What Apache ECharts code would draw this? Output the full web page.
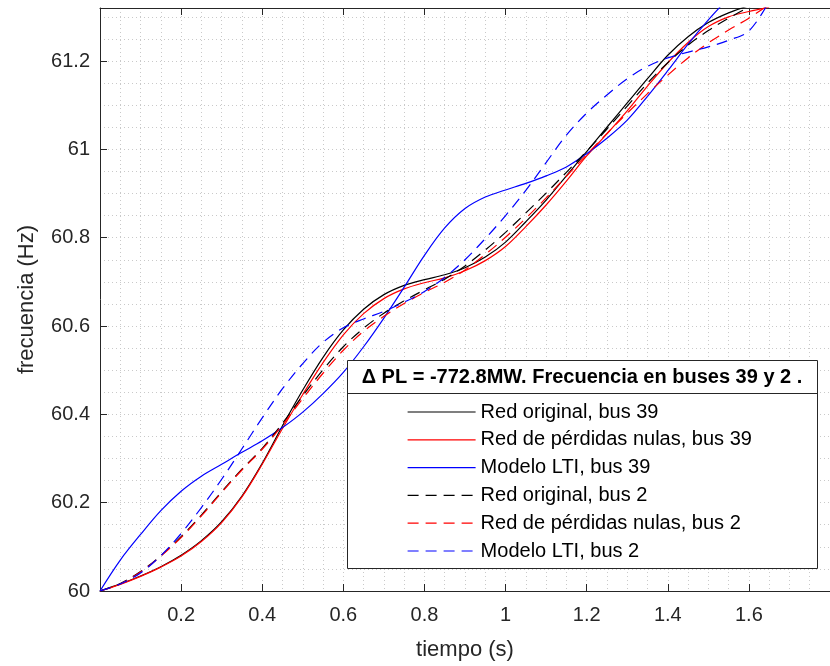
<!DOCTYPE html>
<html>
<head>
<meta charset="utf-8">
<script src="https://cdn.jsdelivr.net/npm/echarts@6/dist/echarts.min.js"></script>
<style>
  html, body {margin: 0; padding: 0; background: #fff;}
  #chart {width: 830px; height: 666px;}
</style>
</head>
<body>
<div id="chart"></div>
<script>
// tiempo (s)
const tiempo = [0, 0.05, 0.1, 0.15, 0.2, 0.25, 0.3, 0.35, 0.4, 0.45, 0.5, 0.55, 0.6, 0.65, 0.7, 0.75, 0.8,
  0.85, 0.9, 0.95, 1, 1.05, 1.1, 1.15, 1.2, 1.25, 1.3, 1.35, 1.4, 1.45, 1.5, 1.55, 1.6, 1.65];

// frecuencia (Hz), bus 39
const redOriginal39 = [60.000, 60.016, 60.034, 60.055, 60.081, 60.114, 60.157, 60.215, 60.289, 60.374, 60.455, 60.529,
  60.591, 60.638, 60.671, 60.692, 60.705, 60.716, 60.732, 60.756, 60.790, 60.836, 60.885, 60.940, 60.995, 61.050,
  61.105, 61.160, 61.213, 61.255, 61.287, 61.309, 61.325, 61.337];
const redNulas39 = [60.000, 60.015, 60.033, 60.054, 60.079, 60.112, 60.155, 60.213, 60.287, 60.368, 60.445, 60.517,
  60.580, 60.628, 60.662, 60.684, 60.698, 60.709, 60.725, 60.748, 60.780, 60.825, 60.874, 60.928, 60.985, 61.035,
  61.087, 61.143, 61.196, 61.242, 61.278, 61.300, 61.312, 61.322];
const lti39 = [60.000, 60.070, 60.128, 60.182, 60.226, 60.260, 60.287, 60.314, 60.340, 60.370, 60.405, 60.447,
  60.495, 60.553, 60.618, 60.688, 60.760, 60.822, 60.866, 60.892, 60.908, 60.923, 60.940, 60.960, 60.990, 61.025,
  61.066, 61.120, 61.178, 61.238, 61.293, 61.343, 61.390, 61.435];

// frecuencia (Hz), bus 2
const redOriginal2 = [60.000, 60.017, 60.044, 60.080, 60.123, 60.172, 60.225, 60.276, 60.323, 60.380, 60.442, 60.501,
  60.553, 60.595, 60.629, 60.657, 60.682, 60.706, 60.736, 60.772, 60.812, 60.856, 60.901, 60.948, 60.996, 61.046,
  61.098, 61.150, 61.196, 61.236, 61.269, 61.297, 61.322, 61.345];
const redNulas2 = [60.000, 60.016, 60.043, 60.079, 60.121, 60.170, 60.223, 60.274, 60.321, 60.376, 60.436, 60.493,
  60.545, 60.588, 60.622, 60.651, 60.676, 60.699, 60.727, 60.762, 60.801, 60.844, 60.890, 60.939, 60.988, 61.036,
  61.082, 61.126, 61.168, 61.207, 61.241, 61.270, 61.297, 61.328];
const lti2 = [60.000, 60.016, 60.041, 60.080, 60.130, 60.189, 60.253, 60.322, 60.392, 60.458, 60.515, 60.563,
  60.596, 60.616, 60.633, 60.654, 60.678, 60.710, 60.750, 60.798, 60.850, 60.907, 60.970, 61.032, 61.082, 61.123,
  61.160, 61.188, 61.207, 61.220, 61.232, 61.247, 61.268, 61.335];

const nombres = ['Red original, bus 39', 'Red de pérdidas nulas, bus 39', 'Modelo LTI, bus 39',
  'Red original, bus 2', 'Red de pérdidas nulas, bus 2', 'Modelo LTI, bus 2'];
const valores = [redOriginal39, redNulas39, lti39, redOriginal2, redNulas2, lti2];
const colores = ['#000000', '#ff0000', '#0000ff', '#000000', '#ff0000', '#0000ff'];

const font = 'Liberation Sans';
const ink = '#262626';
const dotted = {show: true, lineStyle: {color: '#c9c9c9', type: [1, 3], width: 1}};

const chart = echarts.init(document.getElementById('chart'), null, {renderer: 'canvas'});

const xBase = {
  type: 'value', min: 0, max: 1.8, interval: 0.2,
  axisLine: {show: true, onZero: false, lineStyle: {color: ink, width: 1}},
  axisTick: {show: true, inside: true, length: 7, lineStyle: {color: ink}},
  minorTick: {show: false, splitNumber: 4},
};

chart.setOption({
  animation: false,
  textStyle: {fontFamily: font},
  grid: {left: 100, right: -15, top: 8, bottom: 75, containLabel: false},
  xAxis: [
    Object.assign({}, xBase, {
      position: 'bottom',
      name: 'tiempo (s)', nameLocation: 'middle', nameGap: 48,
      nameTextStyle: {fontSize: 22, color: ink, fontFamily: font},
      axisLabel: {fontSize: 20, color: ink, margin: 14, showMinLabel: false, showMaxLabel: false, fontFamily: font},
      splitLine: dotted,
      minorSplitLine: dotted,
    }),
    Object.assign({}, xBase, {
      position: 'top',
      axisLabel: {show: false},
      splitLine: {show: false},
    })
  ],
  yAxis: {
    type: 'value', min: 60, max: 61.32, interval: 0.2,
    name: 'frecuencia (Hz)', nameLocation: 'middle', nameGap: 62,
    nameTextStyle: {fontSize: 22, color: ink, fontFamily: font},
    axisLine: {show: true, onZero: false, lineStyle: {color: ink, width: 1}},
    axisTick: {show: true, inside: true, length: 7, lineStyle: {color: ink}},
    axisLabel: {fontSize: 20, color: ink, margin: 10, showMaxLabel: false, fontFamily: font,
      formatter: v => String(Math.round(v * 10) / 10)},
    minorTick: {show: false, splitNumber: 4},
    splitLine: dotted,
    minorSplitLine: dotted,
  },
  legend: {
    orient: 'vertical', left: 407, top: 402, padding: 0,
    itemWidth: 68, itemHeight: 20, itemGap: 7.8, z: 20,
    itemStyle: {opacity: 0},
    lineStyle: {width: 1.2},
    textStyle: {fontSize: 20, color: '#000', fontFamily: font, lineHeight: 20},
    data: nombres,
  },
  graphic: [
    {type: 'rect', z: 10, shape: {x: 347.5, y: 360.5, width: 470, height: 208},
      style: {fill: '#fff', stroke: ink, lineWidth: 1}},
    {type: 'line', z: 11, shape: {x1: 347.5, y1: 393.5, x2: 817.5, y2: 393.5},
      style: {stroke: ink, lineWidth: 1}},
    {type: 'text', z: 11, x: 582, y: 377,
      style: {text: 'Δ PL = -772.8MW. Frecuencia en buses 39 y 2 .', fill: '#000',
        font: 'bold 20px "Liberation Sans"', textAlign: 'center', textVerticalAlign: 'middle'}}
  ],
  series: nombres.map((n, i) => ({
    name: n,
    type: 'line',
    symbol: 'none',
    smooth: 0.35,
    clip: true,
    color: colores[i],
    lineStyle: {color: colores[i], width: 1.2, type: i < 3 ? 'solid' : [11, 7]},
    data: tiempo.map((t, k) => [t, valores[i][k]]),
  })),
});
</script>
</body>
</html>
